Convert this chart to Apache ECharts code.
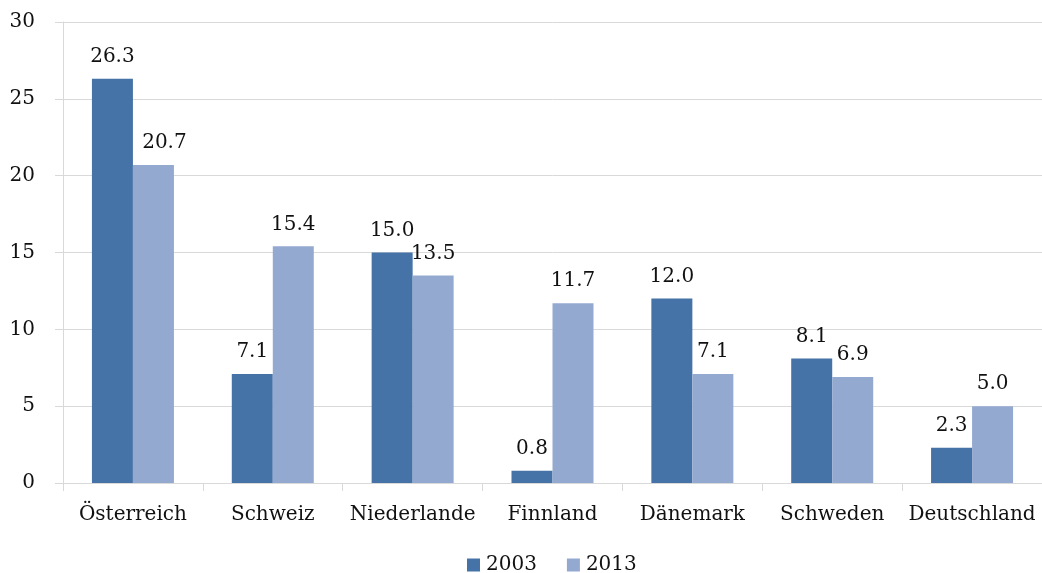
<!DOCTYPE html>
<html>
<head>
<meta charset="utf-8">
<script src="https://cdn.jsdelivr.net/npm/echarts@6/dist/echarts.min.js"></script>
<style>
  html, body { margin: 0; padding: 0; background: #fff; }
  #chart { width: 1042px; height: 573px; }
</style>
</head>
<body>
<div id="chart"></div>
<script>
// Länder und Werte für 2003 und 2013
const countries = ['Österreich', 'Schweiz', 'Niederlande', 'Finnland', 'Dänemark', 'Schweden', 'Deutschland'];
const values2003 = [26.3, 7.1, 15.0, 0.8, 12.0, 8.1, 2.3];
const values2013 = [20.7, 15.4, 13.5, 11.7, 7.1, 6.9, 5.0];
const seriesNames = ['2003', '2013'];

const FONT = 'DejaVu Serif';
const FONT_SIZE = 20;
const gridColor = '#d9d9d9';

const labelStyle = {
  show: true,
  position: 'top',
  distance: 12,
  fontFamily: FONT,
  fontSize: FONT_SIZE,
  color: '#111',
  formatter: p => p.value.toFixed(1)
};

// first 2013 label is nudged right so it clears the taller neighbouring bar
const data2013 = values2013.map((v, i) =>
  i === 0 ? { value: v, label: { offset: [11, 0] } } : v
);

const chart = echarts.init(document.getElementById('chart'));
chart.setOption({
  animation: false,
  textStyle: { fontFamily: FONT },
  grid: { left: 63, top: 22, bottom: 90, width: 987, containLabel: false },
  legend: {
    top: 550,
    left: 462,
    itemWidth: 13,
    itemHeight: 13,
    itemGap: 30,
    icon: 'rect',
    textStyle: { fontFamily: FONT, fontSize: FONT_SIZE, color: '#111', padding: [0, 0, 0, 1] },
    data: seriesNames
  },
  xAxis: {
    type: 'category',
    data: countries,
    boundaryGap: true,
    axisLine: { lineStyle: { color: gridColor } },
    axisTick: { show: true, length: 8, lineStyle: { color: gridColor } },
    axisLabel: { margin: 22, fontFamily: FONT, fontSize: FONT_SIZE, color: '#111', interval: 0 }
  },
  yAxis: {
    type: 'value',
    min: 0,
    max: 30,
    interval: 5,
    axisLine: { show: true, lineStyle: { color: gridColor } },
    axisTick: { show: true, length: 8, lineStyle: { color: gridColor } },
    splitLine: { lineStyle: { color: gridColor } },
    axisLabel: { margin: 28, fontFamily: FONT, fontSize: FONT_SIZE, color: '#111' }
  },
  series: [
    {
      name: seriesNames[0],
      type: 'bar',
      data: values2003,
      barWidth: 41,
      barGap: '0%',
      itemStyle: { color: '#4572a7' },
      label: labelStyle
    },
    {
      name: seriesNames[1],
      type: 'bar',
      data: data2013,
      barWidth: 41,
      itemStyle: { color: '#94a9d0' },
      label: labelStyle
    }
  ]
});
</script>
</body>
</html>
